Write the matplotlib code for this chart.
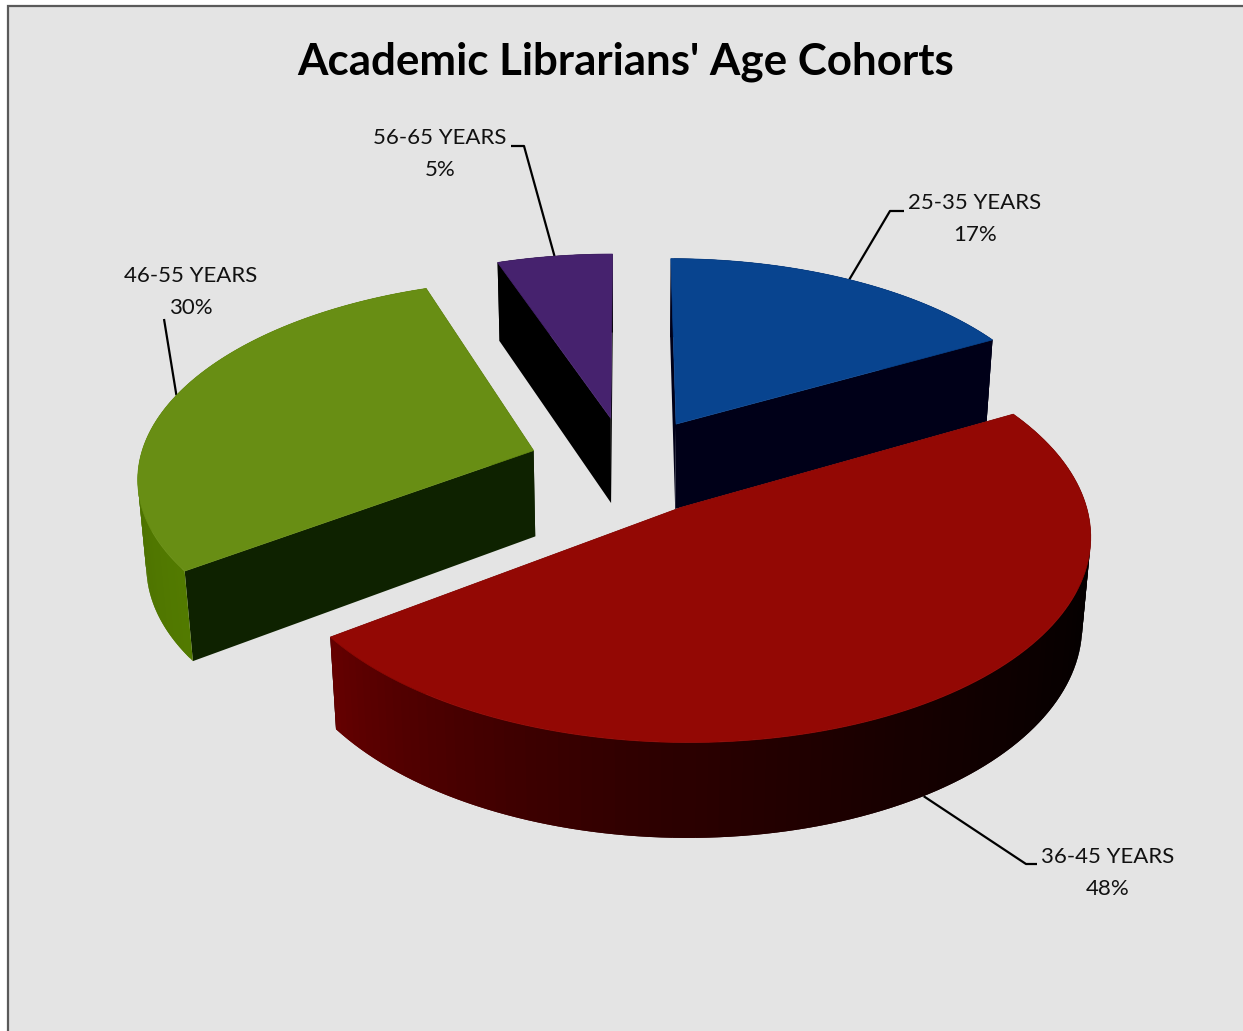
#!/bin/python3

import numpy as np
import matplotlib
matplotlib.use("Agg")
import matplotlib.pyplot as plt
from matplotlib.collections import PolyCollection
from matplotlib.colors import to_rgb
from matplotlib.patches import Rectangle

TITLE = "Academic Librarians' Age Cohorts"
CATEGORIES = ["25-35 YEARS", "36-45 YEARS", "46-55 YEARS", "56-65 YEARS"]
# shares, the labels show them rounded
SHARES = [17.0, 48.0, 29.5, 5.4]
PERCENTS = [17, 48, 30, 5]

TOP_COLORS = ["#08448F", "#930804", "#688E14", "#46226E"]
WALL_COLORS = ["#000018", "#050000", "#0E2200", "#000000"]
RIM_FROM = ["#000018", "#000000", "#527A00", "#000000"]
RIM_TO = ["#000018", "#680000", "#3C5800", "#000000"]
RIM_POWER = [1, 2.3, 1, 1]
DRAW_ORDER = [3, 0, 2, 1]

W, H = 1243, 1031
CX, CY = 627, 465
RADIUS = 395
EXPLODE = 0.25
THICK = 0.256
ELEV = np.radians(29.6)
DIST = 7.1

# leader elbow points and label centres, in pixels
ELBOWS = [[(890, 211), (904, 211)], [(1026, 864), (1037, 864)],
          [(164, 319), (164, 319)], [(524, 146), (511, 146)]]
LABEL_POS = [(975, 219), (1108, 873), (191, 292), (440, 154)]
LEADER_Z = [0, -THICK, 0, 0]


def project(x, y, z):
    depth = DIST + y * np.cos(ELEV) - z * np.sin(ELEV)
    s = DIST / depth
    sx = CX + RADIUS * x * s
    sy = CY - RADIUS * (y * np.sin(ELEV) + z * np.cos(ELEV)) * s
    return np.column_stack([sx, sy]), depth


def rim_point(theta, off, z):
    # theta is clockwise from twelve o'clock
    return off[0] + np.sin(theta), off[1] + np.cos(theta), z


def draw_slice(ax, start, end, off, top, wall, rim_a, rim_b, power):
    thetas = np.linspace(start, end, 120)
    step = thetas[1] - thetas[0]
    quads, colors, depths = [], [], []
    ca, cb = np.array(to_rgb(rim_a)), np.array(to_rgb(rim_b))

    for t0 in thetas[:-1]:
        # each band runs a little under the next one so no seams show
        t1 = min(t0 + 2 * step, end)
        pts = [rim_point(t0, off, 0), rim_point(t1, off, 0),
               rim_point(t1, off, -THICK), rim_point(t0, off, -THICK)]
        xy, d = project(*np.array(pts, dtype=float).T)
        quads.append(xy)
        depths.append(d.mean())
        f = ((t0 - start) / (end - start)) ** power
        colors.append(ca + (cb - ca) * f)

    for t in (start, end):
        rx, ry, _ = rim_point(t, off, 0)
        pts = np.array([[off[0], off[1], 0], [rx, ry, 0],
                        [rx, ry, -THICK], [off[0], off[1], -THICK]], dtype=float)
        xy, d = project(*pts.T)
        quads.append(xy)
        depths.append(d.mean())
        colors.append(np.array(to_rgb(wall)))

    order = np.argsort(depths)[::-1]
    quads = [quads[i] for i in order]
    colors = [colors[i] for i in order]
    ax.add_collection(PolyCollection(quads, facecolors=colors, edgecolors="none", zorder=2))

    xs = np.concatenate([[off[0]], off[0] + np.sin(thetas)])
    ys = np.concatenate([[off[1]], off[1] + np.cos(thetas)])
    xy, _ = project(xs, ys, np.zeros_like(xs))
    ax.fill(xy[:, 0], xy[:, 1], color=top, lw=0.5, zorder=2)


def main():
    plt.rcParams["font.family"] = ["Lato", "DejaVu Sans"]
    fig = plt.figure(figsize=(W / 100, H / 100), dpi=100, facecolor="white")
    ax = fig.add_axes([0, 0, 1, 1])
    ax.set_xlim(0, W)
    ax.set_ylim(H, 0)
    ax.axis("off")
    ax.add_patch(Rectangle((8, 6), W + 20, H + 20, facecolor="#E4E4E4", edgecolor="#5A5A5A", lw=1.6))

    fracs = np.array(SHARES) / sum(SHARES)
    edges = np.concatenate([[0], np.cumsum(fracs)]) * 2 * np.pi
    mids = (edges[:-1] + edges[1:]) / 2
    offs = [(EXPLODE * np.sin(m), EXPLODE * np.cos(m)) for m in mids]

    for i in DRAW_ORDER:
        draw_slice(ax, edges[i], edges[i + 1], offs[i], TOP_COLORS[i], WALL_COLORS[i],
                   RIM_FROM[i], RIM_TO[i], RIM_POWER[i])

    for i, cat in enumerate(CATEGORIES):
        x, y, z = rim_point(mids[i], offs[i], LEADER_Z[i])
        anchor, _ = project(np.array([x]), np.array([y]), np.array([z]))
        path = [tuple(anchor[0])] + ELBOWS[i]
        ax.plot(*zip(*path), color="black", lw=1.6, zorder=1, solid_capstyle="butt")
        ax.text(LABEL_POS[i][0], LABEL_POS[i][1], "%s\n%d%%" % (cat, PERCENTS[i]),
                ha="center", va="center", fontsize=16, linespacing=1.72, color="#111111", zorder=5)

    ax.text(626, 62, TITLE, ha="center", va="center", fontsize=31.6, fontweight="bold",
            color="black", zorder=5)

    fig.savefig("out.png", dpi=100, facecolor="white")


if __name__ == "__main__":
    main()
